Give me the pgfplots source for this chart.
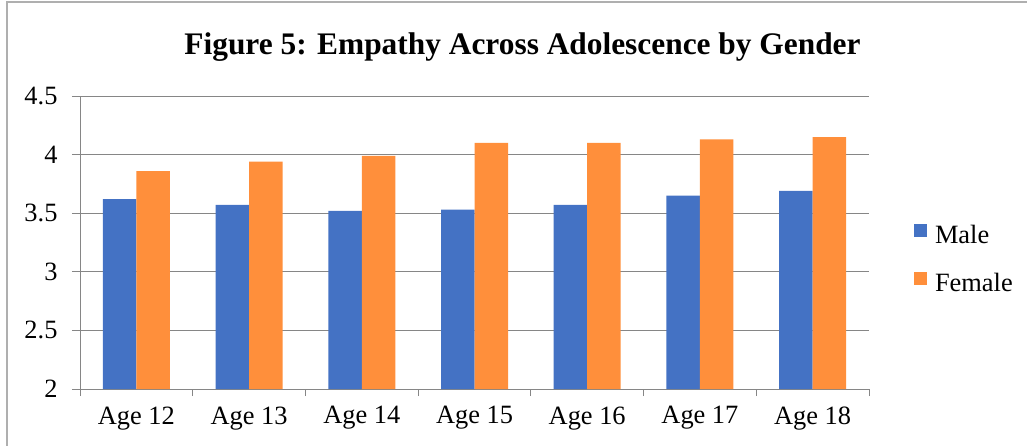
\documentclass[border=0pt]{standalone}
\usepackage{fontspec}
\setmainfont{Liberation Serif}
\usepackage{pgfplots}
\pgfplotsset{compat=1.18}

\definecolor{maleblue}{RGB}{68,114,196}
\definecolor{femaleorange}{RGB}{255,143,59}
\definecolor{gridgray}{RGB}{134,134,134}
\definecolor{framegray}{RGB}{175,175,175}

\begin{document}
\begin{tikzpicture}
\useasboundingbox (-80bp,-57bp) rectangle (947bp,389bp);
% chart frame
\draw[framegray, line width=1.6bp] (-73bp,-70bp) -- (-73bp,387bp) -- (960bp,387bp);
\begin{axis}[
  at={(0,0)}, anchor=south west,
  scale only axis,
  width=789bp, height=293bp,
  xmin=-0.5, xmax=6.5,
  ymin=2, ymax=4.5,
  ybar=0pt, bar width=33.5bp,
  axis x line*=bottom, axis y line*=left,
  axis line style={gridgray, line width=0.8bp, -},
  ytick={2,2.5,...,4.5},
  yticklabels={2,2.5,3,3.5,4,4.5},
  ymajorgrids,
  major grid style={gridgray, line width=0.8bp},
  xtick={0,...,6},
  xticklabels={Age 12,Age 13,Age 14,Age 15,Age 16,Age 17,Age 18},
  minor xtick={-0.5,0.5,...,6.5},
  tick align=outside,
  major x tick style={draw=none},
  minor x tick style={gridgray, line width=0.8bp},
  minor tick length=7bp,
  major tick length=8bp,
  ytick style={gridgray, line width=0.8bp},
  /pgf/number format/assume math mode=true,
  tick label style={font=\fontsize{26.5}{31}\selectfont},
  yticklabel style={xshift=-11bp},
  xticklabel style={yshift=-6bp},
  legend style={
    draw=none, fill=none,
    at={(1.053,0.44)}, anchor=west,
    font=\fontsize{26.5}{31}\selectfont,
    nodes={inner sep=0pt, text height=18bp, text depth=5bp},
    row sep=23bp,
    /tikz/every odd column/.append style={column sep=8bp},
  },
  legend cell align=left,
]
\addplot[fill=maleblue, draw=none,
  legend image code/.code={\fill[maleblue] (0bp,0bp) rectangle (13bp,13bp);}]
  coordinates {(0,3.62) (1,3.57) (2,3.52) (3,3.53) (4,3.57) (5,3.65) (6,3.69)};
\addplot[fill=femaleorange, draw=none,
  legend image code/.code={\fill[femaleorange] (0bp,0bp) rectangle (13bp,13bp);}]
  coordinates {(0,3.86) (1,3.94) (2,3.99) (3,4.10) (4,4.10) (5,4.13) (6,4.15)};
\legend{Male,Female}
\end{axis}
\node[anchor=base, font=\fontsize{31.5}{36}\selectfont\bfseries] at (442.5bp,334bp)
  {Figure 5: Empathy Across Adolescence by Gender};
\end{tikzpicture}
\end{document}
